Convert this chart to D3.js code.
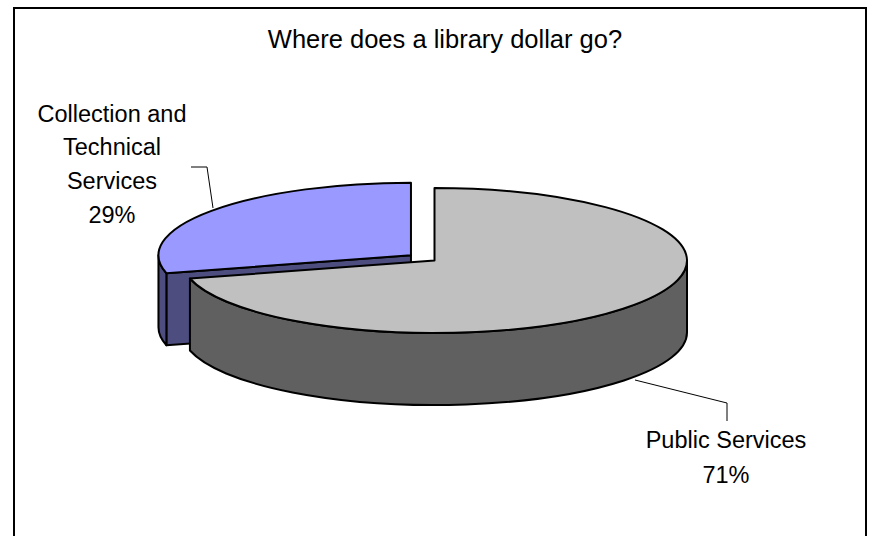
<!DOCTYPE html>
<html>
<head>
<meta charset="utf-8">
<script src="https://cdn.jsdelivr.net/npm/d3@7"></script>
<style>
  html, body { margin: 0; padding: 0; background: #fff; }
  svg { display: block; }
  text { font-family: Arial, "Liberation Sans", sans-serif; fill: #000; }
</style>
</head>
<body>
<svg id="chart" width="877" height="536"></svg>
<script>
// Budget split of a library dollar
const categories = ["Public Services", "Collection and Technical Services"];
const values = [71, 29];
const labelLines = [["Public Services", "71%"], ["Collection and", "Technical", "Services", "29%"]];
const topColors = ["#C0C0C0", "#9999FF"];
const sideColors = ["#606060", "#4D4D80"];
const explode = [0, 0.118];

const W = 877, H = 536;
const svg = d3.select("#chart");

// chart frame
svg.append("rect")
  .attr("x", 14).attr("y", 8)
  .attr("width", 852).attr("height", 560)
  .attr("fill", "#fff").attr("stroke", "#000").attr("stroke-width", 2);

svg.append("text")
  .attr("x", 445).attr("y", 47.5)
  .attr("text-anchor", "middle")
  .style("font-size", "25.5px")
  .text("Where does a library dollar go?");

// 3D pie geometry (oblique projection of a flat cylinder)
const cx = 434.5, cy = 260.5, rx = 252.5, ry = 72.5, depth = 72;

const pie = d3.pie().sort(null).startAngle(0).endAngle(2 * Math.PI);
const arcs = pie(values);

function pt(o, a, dz) {
  return [o[0] + rx * Math.sin(a), o[1] - ry * Math.cos(a) + (dz || 0)];
}

function centerOf(d, i) {
  const mid = (d.startAngle + d.endAngle) / 2;
  const k = explode[i];
  return [cx + rx * k * Math.sin(mid), cy - ry * k * Math.cos(mid)];
}

function topPath(o, a0, a1) {
  const p0 = pt(o, a0), p1 = pt(o, a1);
  const large = (a1 - a0) > Math.PI ? 1 : 0;
  return `M${o[0]},${o[1]}L${p0[0]},${p0[1]}A${rx},${ry} 0 ${large} 1 ${p1[0]},${p1[1]}Z`;
}

function outerSidePath(o, b0, b1) {
  const p0 = pt(o, b0), p1 = pt(o, b1);
  const q0 = pt(o, b0, depth), q1 = pt(o, b1, depth);
  const large = (b1 - b0) > Math.PI ? 1 : 0;
  return `M${p0[0]},${p0[1]}A${rx},${ry} 0 ${large} 1 ${p1[0]},${p1[1]}` +
         `L${q1[0]},${q1[1]}A${rx},${ry} 0 ${large} 0 ${q0[0]},${q0[1]}Z`;
}

function radialPath(o, a) {
  const p = pt(o, a);
  return `M${o[0]},${o[1]}L${p[0]},${p[1]}L${p[0]},${p[1] + depth}L${o[0]},${o[1] + depth}Z`;
}

const g = svg.append("g")
  .attr("stroke", "#000").attr("stroke-width", 2).attr("stroke-linejoin", "round");

// exploded (back) slices are drawn first
const order = arcs.map((d, i) => i).sort((a, b) => explode[b] - explode[a]);

order.forEach(i => {
  const d = arcs[i];
  const o = centerOf(d, i);
  const a0 = d.startAngle, a1 = d.endAngle;
  // cut face at the start edge faces the viewer when it lies on the front-left
  if (a0 > Math.PI && a0 < 2 * Math.PI) {
    g.append("path").attr("d", radialPath(o, a0)).attr("fill", sideColors[i]);
  }
  // visible outer wall: front half of the rim
  const b0 = Math.max(a0, Math.PI / 2), b1 = Math.min(a1, 3 * Math.PI / 2);
  if (b1 > b0) {
    g.append("path").attr("d", outerSidePath(o, b0, b1)).attr("fill", sideColors[i]);
  }
  g.append("path").attr("d", topPath(o, a0, a1)).attr("fill", topColors[i]);
});

// data labels with leader lines
const leaders = [
  [[635, 380], [727, 403], [727, 421]],
  [[213, 208], [207, 167], [191, 167]]
];
const labelPos = [[726, 448, 34.5], [112, 121.5, 33.7]];

leaders.forEach(l => {
  svg.append("path")
    .attr("d", d3.line()(l))
    .attr("fill", "none").attr("stroke", "#000").attr("stroke-width", 1);
});

labelLines.forEach((lines, i) => {
  const t = svg.append("text")
    .attr("text-anchor", "middle")
    .style("font-size", "23.5px");
  lines.forEach((s, j) => {
    t.append("tspan")
      .attr("x", labelPos[i][0])
      .attr("y", labelPos[i][1] + j * labelPos[i][2])
      .text(s);
  });
});
</script>
</body>
</html>
